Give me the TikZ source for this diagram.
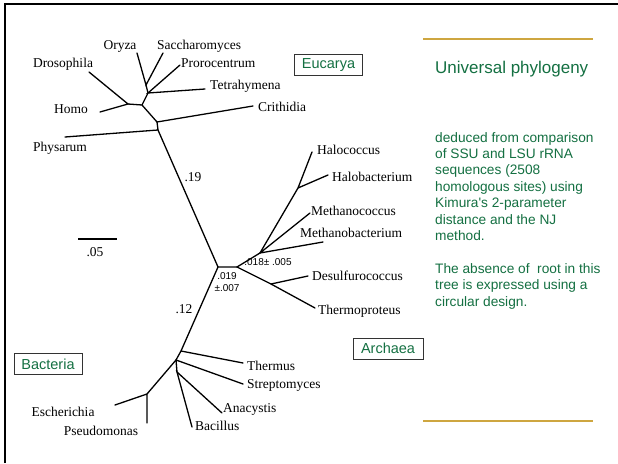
\documentclass[tikz,border=0pt]{standalone}
\usepackage{fontspec}
\setmainfont{Liberation Serif}
\newfontfamily\panelfont{Liberation Sans}
\definecolor{slidegreen}{RGB}{20,112,66}
\definecolor{slidegold}{RGB}{206,166,64}
\begin{document}
\begin{tikzpicture}[x=1pt,y=-1pt,
    branch/.style={line width=1.3pt, line cap=round},
    taxon/.style={font=\fontsize{13.5}{15}\selectfont, inner sep=0pt, text height=9pt, text depth=3pt},
    brlen/.style={font=\panelfont\fontsize{10}{11.5}\selectfont, inner sep=0pt, align=center},
    domainbox/.style={draw=black!80, line width=0.7pt, fill=white, text=slidegreen,
        font=\panelfont\fontsize{14.5}{16}\selectfont, inner sep=0pt, minimum width=68pt, minimum height=21pt}]
    \useasboundingbox[fill=white] (0,0) rectangle (618,463);

    % Slide frame
    \draw[line width=2.3pt] (5,463) -- (5,4) -- (618,4);

    % Internal nodes of the tree
    \coordinate (e1) at (146,85);
    \coordinate (e2) at (148,93);
    \coordinate (e3) at (142,105);
    \coordinate (e4) at (128,104);
    \coordinate (e5) at (157,122);
    \coordinate (e6) at (158,130);
    \coordinate (c1) at (218,267);
    \coordinate (c2) at (237,267);
    \coordinate (a1) at (260,253);
    \coordinate (a2) at (298,188);
    \coordinate (a3) at (271,284);
    \coordinate (b1) at (181,351);
    \coordinate (b2) at (176,360);
    \coordinate (b3) at (177,372);
    \coordinate (b4) at (147,394);

    % Leaf ends
    \coordinate (oryza) at (137,53);
    \coordinate (sacch) at (163,53);
    \coordinate (proro) at (180,65);
    \coordinate (tetra) at (205,89);
    \coordinate (droso) at (89,72);
    \coordinate (homo) at (100,112);
    \coordinate (crith) at (253,106);
    \coordinate (physa) at (65,137);
    \coordinate (haloc) at (312,152);
    \coordinate (halob) at (328,175);
    \coordinate (methc) at (310,213);
    \coordinate (methb) at (323,242);
    \coordinate (desulf) at (308,276);
    \coordinate (thermop) at (315,308);
    \coordinate (thermus) at (243,363);
    \coordinate (strep) at (243,384);
    \coordinate (anac) at (222,413);
    \coordinate (bacil) at (192,427);
    \coordinate (esch) at (115,405);
    \coordinate (pseudo) at (147,423);

    % Branches
    \draw[branch] (oryza) -- (e1) -- (sacch);
    \draw[branch] (e1) -- (e2) -- (e3) -- (e4);
    \draw[branch] (proro) -- (e2) -- (tetra);
    \draw[branch] (droso) -- (e4) -- (homo);
    \draw[branch] (e3) -- (e5) -- (crith);
    \draw[branch] (e5) -- (e6) -- (physa);
    \draw[branch] (e6) -- (c1) -- (c2);
    \draw[branch] (c2) -- (a1) -- (a2);
    \draw[branch] (haloc) -- (a2) -- (halob);
    \draw[branch] (methc) -- (a1) -- (methb);
    \draw[branch] (c2) -- (a3) -- (thermop);
    \draw[branch] (a3) -- (desulf);
    \draw[branch] (c1) -- (b1) -- (b2) -- (b3);
    \draw[branch] (b1) -- (thermus);
    \draw[branch] (b2) -- (strep);
    \draw[branch] (anac) -- (b3) -- (bacil);
    \draw[branch] (b2) -- (b4);
    \draw[branch] (esch) -- (b4) -- (pseudo);

    % Taxon labels
    \node[taxon] (oryza-l) at (120,46) {Oryza};
    \node[taxon, anchor=west] (sacch-l) at (157,46) {Saccharomyces};
    \node[taxon] (droso-l) at (63,64) {Drosophila};
    \node[taxon, anchor=west] (proro-l) at (181,64) {Prorocentrum};
    \node[taxon, anchor=west] (tetra-l) at (210,86) {Tetrahymena};
    \node[taxon] (homo-l) at (71,110) {Homo};
    \node[taxon, anchor=west] (crith-l) at (258,108) {Crithidia};
    \node[taxon] (physa-l) at (60,148) {Physarum};
    \node[taxon, anchor=west] (haloc-l) at (317,151) {Halococcus};
    \node[taxon, anchor=west] (halob-l) at (332,178) {Halobacterium};
    \node[taxon, anchor=west] (methc-l) at (311,212) {Methanococcus};
    \node[taxon, anchor=west] (methb-l) at (300,234) {Methanobacterium};
    \node[taxon, anchor=west] (desulf-l) at (312,277) {Desulfurococcus};
    \node[taxon, anchor=west] (thermop-l) at (318,311) {Thermoproteus};
    \node[taxon, anchor=west] (thermus-l) at (247,367) {Thermus};
    \node[taxon, anchor=west] (strep-l) at (247,385) {Streptomyces};
    \node[taxon, anchor=west] (anac-l) at (223,409) {Anacystis};
    \node[taxon, anchor=west] (bacil-l) at (195,427) {Bacillus};
    \node[taxon] (esch-l) at (63,413) {Escherichia};
    \node[taxon] (pseudo-l) at (101,432) {Pseudomonas};

    % Branch lengths and scale bar
    \node[taxon] (len-eu) at (193,178) {.19};
    \node[taxon] (len-ba) at (184,310) {.12};
    \node[brlen] (len-ar) at (268,262) {.018± .005};
    \node[brlen] (len-c) at (227,282) {.019\\±.007};
    \coordinate (bar-a) at (78,239);
    \coordinate (bar-b) at (117,239);
    \draw[branch, line cap=butt] (bar-a) -- (bar-b);
    \node[taxon] (bar-l) at (95,253) {.05};

    % Domain boxes
    \node[domainbox] (eucarya) at (328.5,65) {Eucarya};
    \node[domainbox] (bacteria) at (48,364) {Bacteria};
    \node[domainbox, minimum width=70pt] (archaea) at (388,348.5) {Archaea};

    % Right panel
    \coordinate (rule-a) at (423,39);
    \coordinate (rule-b) at (593,39);
    \coordinate (rule-c) at (423,421);
    \coordinate (rule-d) at (593,421);
    \draw[slidegold, line width=1.3pt] (rule-a) -- (rule-b);
    \draw[slidegold, line width=1.3pt] (rule-c) -- (rule-d);
    \node[anchor=west, inner sep=0pt, text=slidegreen, font=\panelfont\fontsize{17}{20}\selectfont]
        (title) at (435,69) {Universal phylogeny};
    \node[anchor=north west, inner sep=0pt, text=slidegreen, align=left,
        font=\panelfont\fontsize{13.7}{16.4}\selectfont] (body) at (435,132)
        {deduced from comparison\\of SSU and LSU rRNA\\sequences (2508\\homologous sites) using\\Kimura's 2-parameter\\distance and the NJ\\method.\\[16.4pt]The absence of~ root in this\\tree is expressed using a\\circular design.};
\end{tikzpicture}
\end{document}
